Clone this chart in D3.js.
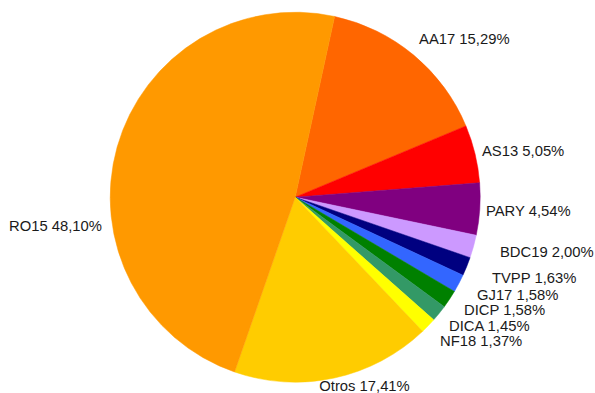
<!DOCTYPE html>
<html>
<head>
<meta charset="utf-8">
<script src="https://cdn.jsdelivr.net/npm/d3@7"></script>
<style>
  html, body { margin: 0; padding: 0; background: #ffffff; }
  svg { display: block; }
  text { font-family: "Liberation Sans", Arial, sans-serif; font-size: 14.8px; fill: #1a1a1a; }
</style>
</head>
<body>
<svg id="chart" width="595" height="393"></svg>
<script>
// Share of each group (%)
const categories = ["AA17", "AS13", "PARY", "BDC19", "TVPP", "GJ17", "DICP", "DICA", "NF18", "Otros", "RO15"];
const values = [15.29, 5.05, 4.54, 2.00, 1.63, 1.58, 1.58, 1.45, 1.37, 17.41, 48.10];
const labels = ["AA17 15,29%", "AS13 5,05%", "PARY 4,54%", "BDC19 2,00%", "TVPP 1,63%", "GJ17 1,58%",
                "DICP 1,58%", "DICA 1,45%", "NF18 1,37%", "Otros 17,41%", "RO15 48,10%"];
const colors = ["#ff6600", "#ff0000", "#800080", "#cc99ff", "#000080", "#3366ff",
                "#008000", "#339966", "#ffff00", "#ffcc00", "#ff9900"];

// Layout
const cx = 295.2, cy = 197.2, radius = 185, labelRadius = 197;
const startDeg = 12.3;
// Per-label shifts from the mid-angle anchor, keeps the small slices' labels apart
const labelNudge = [[-2.3, -1.8], [-4.7, 5.0], [-5.8, 6.1], [14.9, 7.3], [14.1, 12.0], [7.5, 11.0],
                    [4.5, 8.8], [0.5, 10.0], [3.1, 11.9], [27.7, 1.2], [-3.6, 87.2]];
const labelAnchor = ["start", "start", "start", "start", "start", "start",
                     "start", "start", "start", "middle", "end"];

const svg = d3.select("#chart");
const g = svg.append("g").attr("transform", `translate(${cx},${cy})`);

const pie = d3.pie()
  .value(d => d.value)
  .sort(null)
  .startAngle(startDeg * Math.PI / 180)
  .endAngle(startDeg * Math.PI / 180 + 2 * Math.PI);

const data = categories.map((c, i) => ({ name: c, value: values[i], label: labels[i], color: colors[i], i }));
const arcs = pie(data);

const arc = d3.arc().innerRadius(0).outerRadius(radius);
const labelArc = d3.arc().innerRadius(labelRadius).outerRadius(labelRadius);

g.selectAll("path.slice")
  .data(arcs)
  .join("path")
  .attr("class", "slice")
  .attr("d", arc)
  .attr("fill", d => d.data.color)
  .attr("stroke", d => d.data.color)
  .attr("stroke-width", 0.5);

g.selectAll("text.lbl")
  .data(arcs)
  .join("text")
  .attr("class", "lbl")
  .attr("x", d => labelArc.centroid(d)[0] + labelNudge[d.data.i][0])
  .attr("y", d => labelArc.centroid(d)[1] + labelNudge[d.data.i][1])
  .attr("text-anchor", d => labelAnchor[d.data.i])
  .text(d => d.data.label);
</script>
</body>
</html>
